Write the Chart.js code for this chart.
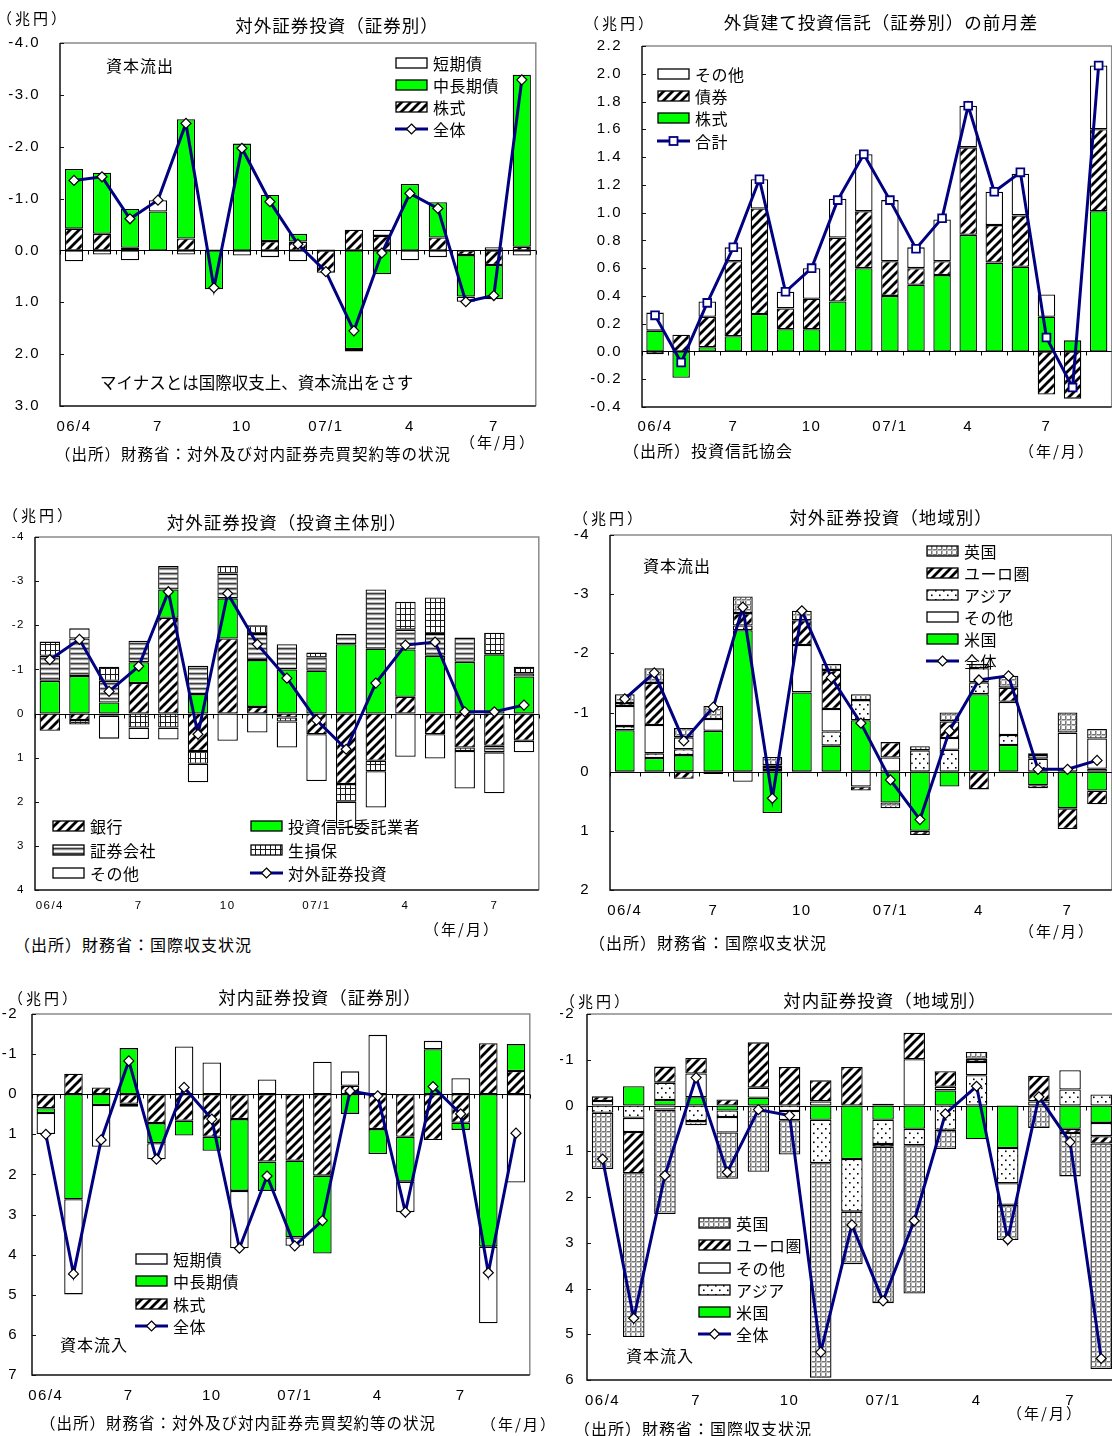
<!DOCTYPE html>
<html>
<head>
<meta charset="utf-8">
<script src="https://cdn.jsdelivr.net/npm/chart.js@4.4.1/dist/chart.umd.min.js"></script>
<style>
html,body{margin:0;padding:0;width:1112px;height:1436px;overflow:hidden;background:#fff;}
body{position:relative;font-family:"Liberation Sans","Noto Sans CJK JP",sans-serif;color:#000;}
.t{position:absolute;white-space:nowrap;line-height:1;font-family:"Noto Sans CJK JP","Liberation Sans",sans-serif;letter-spacing:1px;}
canvas.c{position:absolute;}
.lr{position:absolute;display:flex;align-items:center;height:22px;white-space:nowrap;line-height:1;font-family:"Noto Sans CJK JP",sans-serif;letter-spacing:0.5px;}
.lr canvas{margin-right:5px;display:block;}
</style>
</head>
<body>
<script>
// Month axis shared by all six panels (tick labels every third month)
const MONTHS = ['06/4','5','6','7','8','9','10','11','12','07/1','2','3','4','5','6','7','8','9'];
const months17 = MONTHS.slice(0, 17);
const months18 = MONTHS.slice(0, 18);

// 対外証券投資（証券別） 兆円, minus = capital outflow
const outSec_stock = [-0.42,-0.32,-0.05,0,-0.23,-0.02,0,-0.18,-0.17,0.43,-0.40,-0.28,0,-0.25,0.09,0.28,-0.07];
const outSec_long  = [-1.15,-1.18,-0.75,-0.75,-2.30,0.75,-2.06,-0.89,-0.15,0,1.90,0.46,-1.28,-0.68,0.80,0.66,-3.32];
const outSec_short = [0.21,0.08,0.19,-0.22,0.08,0,0.10,0.13,0.21,-0.02,0.05,-0.12,0.19,0.13,0.10,-0.06,0.10];
const outSec_total = [-1.35,-1.42,-0.61,-0.97,-2.45,0.72,-1.97,-0.94,-0.12,0.41,1.55,0.05,-1.10,-0.81,0.99,0.87,-3.29];

// 外貨建て投資信託（証券別）の前月差
const fund_stock = [0.15,-0.19,0.03,0.11,0.27,0.16,0.16,0.36,0.60,0.40,0.48,0.55,0.84,0.64,0.61,0.25,0.08,1.01];
const fund_bond  = [-0.02,0.12,0.22,0.54,0.76,0.15,0.22,0.46,0.41,0.25,0.12,0.10,0.63,0.27,0.37,-0.31,-0.34,0.59];
const fund_other = [0.13,0,0.11,0.10,0.21,0.12,0.22,0.28,0.41,0.44,0.15,0.30,0.30,0.24,0.30,0.16,0,0.46];
const fund_total = [0.26,-0.08,0.35,0.75,1.24,0.43,0.60,1.09,1.42,1.09,0.74,0.96,1.77,1.15,1.29,0.10,-0.26,2.06];

// 対外証券投資（投資主体別）
const inv_bank  = [0.39,0.15,0.05,-0.69,-2.17,0.85,-1.70,-0.15,0.09,0.47,1.60,1.07,-0.38,0.47,0.77,0.73,0.62];
const inv_trust = [-0.74,-0.85,-0.25,-0.47,-0.64,-0.44,-0.91,-1.06,-1.00,-0.97,-1.57,-1.47,-1.07,-1.31,-1.17,-1.34,-0.84];
const inv_sec   = [-0.57,-0.85,-0.49,-0.49,-0.53,-0.64,-0.56,-0.59,-0.57,-0.30,-0.23,-1.34,-0.45,-0.49,-0.55,0.15,-0.07];
const inv_ins   = [-0.32,0.10,-0.32,0.32,0.32,0.29,-0.17,-0.20,0.09,-0.11,0.40,0.24,-0.63,-0.83,0.08,-0.49,-0.15];
const inv_other = [0,-0.23,0.52,0.26,0.27,0.42,0.62,0.43,0.59,1.06,0.60,0.82,0.98,0.55,0.85,0.93,0.26];
const inv_total = [-1.22,-1.68,-0.50,-1.07,-2.76,0.47,-2.72,-1.57,-0.80,0.15,0.81,-0.69,-1.55,-1.62,-0.04,-0.04,-0.19];

// 対外証券投資（地域別）
const outReg_us    = [-0.70,-0.23,-0.28,-0.69,-2.39,0.70,-1.34,-0.44,-0.87,0.52,1.00,0.25,-1.31,-0.45,0.23,0.62,0.32];
const outReg_asia  = [-0.07,-0.08,-0.10,0,-0.08,-0.03,0,-0.24,-0.34,0,-0.36,-0.37,-0.20,-0.17,-0.22,0,-0.05];
const outReg_other = [-0.34,-0.48,-0.20,-0.20,0.17,-0.05,-0.80,-0.38,0.25,-0.24,0,-0.20,-0.24,-0.56,-0.06,-0.66,-0.51];
const outReg_euro  = [-0.05,-0.71,0.12,0.04,-0.21,-0.03,-0.42,-0.66,0.07,-0.26,0.07,-0.28,0.30,-0.24,0.05,0.35,0.23];
const outReg_uk    = [-0.15,-0.25,-0.16,-0.22,-0.28,-0.14,-0.16,-0.10,-0.10,0.10,-0.07,-0.15,-0.07,-0.20,-0.03,-0.34,-0.16];
const outReg_total = [-1.23,-1.67,-0.52,-1.09,-2.78,0.45,-2.72,-1.59,-0.82,0.14,0.81,-0.69,-1.55,-1.62,-0.04,-0.04,-0.19];

// 対内証券投資（証券別） plus = capital inflow
const inSec_stock = [0.35,-0.51,-0.17,0.24,0.72,0.66,1.06,0.62,1.68,1.66,2.03,-0.21,0.87,1.06,1.14,0.71,-1.27,-0.58];
const inSec_long  = [0.12,2.62,0.27,-1.15,0.50,0.37,0.35,1.79,0.73,1.91,1.94,0.49,0.62,1.12,-1.12,0.18,3.80,-0.67];
const inSec_short = [0.52,2.37,1.04,0.07,0.40,-1.19,-0.79,1.43,-0.37,0.21,-0.81,-0.36,-1.48,0.76,-0.21,-0.40,1.91,2.20];
const inSec_total = [1.00,4.48,1.14,-0.83,1.62,-0.17,0.62,3.84,2.04,3.78,3.15,-0.08,0.04,2.94,-0.19,0.49,4.45,0.97];

// 対内証券投資（地域別）
const inReg_us    = [0,-0.42,-0.12,-0.18,0.11,-0.17,0,0.31,1.17,0.31,0.51,-0.33,0.74,0.93,0,0.51,0.38];
const inReg_asia  = [0.16,0.27,-0.38,0.34,0.14,0,0.12,0.95,1.15,0.53,0.36,0.53,-0.66,0.77,0,-0.35,-0.24];
const inReg_other = [-0.10,0.31,0.09,-0.52,0.34,-0.22,0.20,-0.09,0,-0.04,-1.01,-0.08,-0.29,0.47,-0.09,-0.42,0.29];
const inReg_euro  = [-0.10,0.90,-0.35,-0.34,-0.13,-0.99,-0.84,-0.46,-0.84,0.06,-0.58,-0.34,-0.07,0,-0.56,0.09,0.16];
const inReg_uk    = [1.23,3.58,2.28,0.09,1.01,1.45,0.75,4.69,1.15,3.42,3.24,0.42,-0.15,0.77,0.49,0.95,4.93];
const inReg_total = [1.17,4.65,1.53,-0.61,1.46,0.09,0.22,5.39,2.61,4.27,2.52,0.18,-0.42,2.93,-0.19,0.80,5.53];

const NAVY = '#000080';
const GREEN = '#00ff00';
const NUM_FONT = '"Liberation Sans", Arial, sans-serif';

// ---- fill patterns ----
function makePattern(kind) {
  const c = document.createElement('canvas');
  let g;
  if (kind === 'hatch') {
    c.width = 9; c.height = 9; g = c.getContext('2d');
    g.fillStyle = '#fff'; g.fillRect(0, 0, 9, 9);
    g.strokeStyle = '#000'; g.lineWidth = 2.8; g.lineCap = 'square';
    g.beginPath();
    g.moveTo(-1, 10); g.lineTo(10, -1);
    g.moveTo(-2, 2); g.lineTo(2, -2);
    g.moveTo(7, 11); g.lineTo(11, 7);
    g.stroke();
  } else if (kind === 'stripe') {
    c.width = 4; c.height = 5; g = c.getContext('2d');
    const rows = ['#3c3c3c', '#8c8c8c', '#e6e6e6', '#ffffff', '#bdbdbd'];
    rows.forEach((col, i) => { g.fillStyle = col; g.fillRect(0, i, 4, 1); });
  } else if (kind === 'grid') {
    c.width = 5; c.height = 6; g = c.getContext('2d');
    g.fillStyle = '#fff'; g.fillRect(0, 0, 5, 6);
    g.fillStyle = '#1a1a1a'; g.fillRect(0, 0, 5, 1); g.fillRect(0, 0, 1, 6);
  } else if (kind === 'gridFine') {
    c.width = 5; c.height = 5; g = c.getContext('2d');
    g.fillStyle = '#fff'; g.fillRect(0, 0, 5, 5);
    g.fillStyle = '#777'; g.fillRect(0, 0, 5, 1); g.fillRect(0, 0, 1, 5);
    g.fillStyle = '#bbb'; g.fillRect(0, 1, 5, 1); g.fillRect(1, 0, 1, 5);
  } else if (kind === 'dots') {
    c.width = 8; c.height = 9; g = c.getContext('2d');
    g.fillStyle = '#fff'; g.fillRect(0, 0, 8, 9);
    g.fillStyle = '#000'; g.fillRect(1, 2, 1.6, 1.6); g.fillRect(5, 6.5, 1.6, 1.6);
  }
  return g.createPattern(c, 'repeat');
}
const FILL = {
  hatch: makePattern('hatch'), stripe: makePattern('stripe'), grid: makePattern('grid'),
  gridFine: makePattern('gridFine'), dots: makePattern('dots'), green: GREEN, white: '#ffffff'
};

function barSet(label, data, fill) {
  return {
    type: 'bar', label, data: data.map(v => (v === 0 ? null : v)),
    backgroundColor: FILL[fill], borderColor: '#000', borderWidth: 1.3,
    borderSkipped: false, stack: 'parts', order: 2
  };
}
function lineSet(label, data, square) {
  return {
    type: 'line', label, data, stack: 'line', order: 0,
    borderColor: NAVY, borderWidth: 3, tension: 0,
    pointStyle: square ? 'rect' : 'rectRot', pointRadius: square ? 5.5 : 5,
    pointBackgroundColor: '#fff', pointBorderColor: square ? NAVY : '#000',
    pointBorderWidth: square ? 1.8 : 1.2
  };
}

// plot frame, inward value ticks, zero line with month ticks
const framePlugin = {
  id: 'frame',
  beforeDraw(chart) { chart.ctx.letterSpacing = '1.5px'; },
  beforeDatasetsDraw(chart) {
    const { ctx, chartArea: a, scales: { x, y } } = chart;
    ctx.save();
    ctx.lineWidth = 1.5;
    ctx.strokeStyle = '#8a8a8a';
    ctx.beginPath(); ctx.moveTo(a.left, a.top); ctx.lineTo(a.right, a.top); ctx.lineTo(a.right, a.bottom); ctx.stroke();
    ctx.strokeStyle = '#111';
    ctx.beginPath(); ctx.moveTo(a.left, a.top); ctx.lineTo(a.left, a.bottom); ctx.lineTo(a.right, a.bottom); ctx.stroke();
    ctx.lineWidth = 1;
    ctx.beginPath();
    y.ticks.forEach(t => { const py = Math.round(y.getPixelForValue(t.value)) + 0.5; ctx.moveTo(a.left, py); ctx.lineTo(a.left + 4, py); });
    ctx.stroke();
    const z = Math.round(y.getPixelForValue(0)) + 0.5;
    const step = x.getPixelForValue(1) - x.getPixelForValue(0);
    ctx.strokeStyle = '#000'; ctx.lineWidth = 1.2;
    ctx.beginPath(); ctx.moveTo(a.left, z); ctx.lineTo(a.right, z); ctx.stroke();
    ctx.lineWidth = 1;
    ctx.beginPath();
    for (let i = 0; i <= chart.data.labels.length; i++) {
      const px = Math.round(x.getPixelForValue(0) - step / 2 + i * step) + 0.5;
      ctx.moveTo(px, z); ctx.lineTo(px, z + 4);
    }
    ctx.stroke();
    ctx.restore();
  }
};

function panel(o) {
  const padL = o.axisW, padR = 4, padB = 40;
  // top padding must cover half the top tick label plus its padding
  const padT = Math.ceil(o.fs * 0.6 + o.yPad) + 2;
  const [l, t, r, b] = o.plot;
  const w = Math.round(r - l + padL + padR), h = Math.round(b - t + padT + padB);
  const cv = document.createElement('canvas');
  cv.className = 'c';
  cv.width = w; cv.height = h;
  cv.style.left = (l - padL) + 'px'; cv.style.top = (t - padT) + 'px';
  cv.style.width = w + 'px'; cv.style.height = h + 'px';
  document.body.appendChild(cv);
  const dec = o.decimals || 0;
  new Chart(cv, {
    type: 'bar',
    data: { labels: o.labels, datasets: o.datasets },
    options: {
      responsive: false, animation: false, devicePixelRatio: 1,
      layout: { padding: { top: padT, right: padR, left: 0, bottom: 0 } },
      plugins: { legend: { display: false }, tooltip: { enabled: false } },
      datasets: { bar: { categoryPercentage: 1, barPercentage: o.barPct } },
      scales: {
        x: {
          stacked: true, offset: true,
          grid: { display: false, drawTicks: false }, border: { display: false },
          ticks: {
            autoSkip: false, maxRotation: 0, minRotation: 0, padding: o.xPad, color: '#000',
            font: { size: o.fs, family: NUM_FONT },
            callback(v, i) { return i % 3 === 0 ? this.getLabelForValue(v) : ''; }
          },
          afterFit(s) { s.height = padB; }
        },
        y: {
          stacked: true, reverse: !!o.reverse, min: o.min, max: o.max,
          grid: { display: false, drawTicks: false }, border: { display: false },
          ticks: {
            stepSize: o.step, padding: o.yPad, color: '#000',
            font: { size: o.fs, family: NUM_FONT },
            callback(v) { const s = Number(v).toFixed(dec); return s === '-0.0' || s === '-0' ? s.slice(1) : s; }
          },
          afterFit(s) { s.width = padL; }
        }
      }
    },
    plugins: [framePlugin]
  });
}

// ---- text helpers ----
function T(text, x, y, size, align, ls) {
  const d = document.createElement('div');
  d.className = 't';
  d.textContent = text;
  d.style.fontSize = size + 'px';
  if (ls !== undefined) d.style.letterSpacing = ls + 'px';
  d.style.left = x + 'px'; d.style.top = y + 'px';
  d.style.transform = align === 'c' ? 'translate(-50%,-50%)' : 'translateY(-50%)';
  document.body.appendChild(d);
}
function swatch(kind, w, h) {
  const c = document.createElement('canvas');
  c.width = w; c.height = h + 4; c.style.width = w + 'px'; c.style.height = (h + 4) + 'px';
  const g = c.getContext('2d');
  if (kind === 'line' || kind === 'lineSq') {
    const cy = (h + 4) / 2;
    g.strokeStyle = NAVY; g.lineWidth = 3;
    g.beginPath(); g.moveTo(0, cy); g.lineTo(w, cy); g.stroke();
    g.fillStyle = '#fff';
    if (kind === 'line') {
      g.strokeStyle = '#000'; g.lineWidth = 1.2;
      g.beginPath(); g.moveTo(w / 2, cy - 5); g.lineTo(w / 2 + 5, cy); g.lineTo(w / 2, cy + 5); g.lineTo(w / 2 - 5, cy); g.closePath();
      g.fill(); g.stroke();
    } else {
      g.strokeStyle = NAVY; g.lineWidth = 1.8;
      g.fillRect(w / 2 - 4, cy - 4, 8, 8); g.strokeRect(w / 2 - 4, cy - 4, 8, 8);
    }
  } else {
    g.fillStyle = FILL[kind];
    g.fillRect(1, 2, w - 2, h);
    g.strokeStyle = '#000'; g.lineWidth = 1.3;
    g.strokeRect(1, 2, w - 2, h);
  }
  return c;
}
function legend(x, rows, items, size) {
  items.forEach((it, i) => {
    const d = document.createElement('div');
    d.className = 'lr';
    d.style.left = x + 'px'; d.style.top = (rows[i] - 11) + 'px';
    d.style.fontSize = size + 'px';
    d.appendChild(swatch(it[1], 33, 10));
    const s = document.createElement('span'); s.textContent = it[0];
    d.appendChild(s);
    document.body.appendChild(d);
  });
}

// ---- panel 1: 対外証券投資（証券別） ----
panel({
  plot: [60, 43, 538, 406], axisW: 60, yPad: 20, xPad: 12, fs: 15,
  min: -4, max: 3, step: 1, reverse: true, decimals: 1, barPct: 0.65,
  labels: months17,
  datasets: [
    barSet('株式', outSec_stock, 'hatch'),
    barSet('中長期債', outSec_long, 'green'),
    barSet('短期債', outSec_short, 'white'),
    lineSet('全体', outSec_total)
  ]
});
T('（兆円）', -3, 17, 15, 'l', 3);
T('対外証券投資（証券別）', 337, 25, 17.5, 'c');
T('資本流出', 106, 65, 16);
T('マイナスとは国際収支上、資本流出をさす', 100, 382, 16.5, 'l', 0);
T('（年/月）', 460, 441, 15, 'l', 2);
T('（出所）財務省：対外及び対内証券売買契約等の状況', 55, 454, 15.5);
legend(395, [63, 85, 107, 129], [['短期債', 'white'], ['中長期債', 'green'], ['株式', 'hatch'], ['全体', 'line']], 16);

// ---- panel 2: 外貨建て投資信託（証券別）の前月差 ----
panel({
  plot: [642, 46, 1115, 407], axisW: 55, yPad: 20, xPad: 11, fs: 15,
  min: -0.4, max: 2.2, step: 0.2, decimals: 1, barPct: 0.67,
  labels: months18,
  datasets: [
    barSet('株式', fund_stock, 'green'),
    barSet('債券', fund_bond, 'hatch'),
    barSet('その他', fund_other, 'white'),
    lineSet('合計', fund_total, true)
  ]
});
T('（兆円）', 584, 22, 15, 'l', 3);
T('外貨建て投資信託（証券別）の前月差', 881, 22, 17.5, 'c');
T('（出所）投資信託協会', 623, 450, 16);
T('（年/月）', 1019, 450, 15, 'l', 2);
legend(657, [74, 96, 118, 141], [['その他', 'white'], ['債券', 'hatch'], ['株式', 'green'], ['合計', 'lineSq']], 16);

// ---- panel 3: 対外証券投資（投資主体別） ----
panel({
  plot: [35, 537, 541, 890], axisW: 35, yPad: 10, xPad: 9, fs: 11.5,
  min: -4, max: 4, step: 1, reverse: true, barPct: 0.69,
  labels: months17,
  datasets: [
    barSet('銀行', inv_bank, 'hatch'),
    barSet('投資信託委託業者', inv_trust, 'green'),
    barSet('証券会社', inv_sec, 'stripe'),
    barSet('生損保', inv_ins, 'grid'),
    barSet('その他', inv_other, 'white'),
    lineSet('対外証券投資', inv_total)
  ]
});
T('（兆円）', 3, 514, 15, 'l', 3);
T('対外証券投資（投資主体別）', 287, 522, 17.5, 'c');
T('（年/月）', 424, 928, 15, 'l', 2);
T('（出所）財務省：国際収支状況', 14, 944, 16);
legend(52, [826, 850, 873], [['銀行', 'hatch'], ['証券会社', 'stripe'], ['その他', 'white']], 16);
legend(250, [826, 850, 873], [['投資信託委託業者', 'green'], ['生損保', 'grid'], ['対外証券投資', 'line']], 16);

// ---- panel 4: 対外証券投資（地域別） ----
panel({
  plot: [610, 535, 1114, 890], axisW: 40, yPad: 20, xPad: 12, fs: 15,
  min: -4, max: 2, step: 1, reverse: true, barPct: 0.67,
  labels: months17,
  datasets: [
    barSet('米国', outReg_us, 'green'),
    barSet('アジア', outReg_asia, 'dots'),
    barSet('その他', outReg_other, 'white'),
    barSet('ユーロ圏', outReg_euro, 'hatch'),
    barSet('英国', outReg_uk, 'gridFine'),
    lineSet('全体', outReg_total)
  ]
});
T('（兆円）', 573, 517, 15, 'l', 3);
T('対外証券投資（地域別）', 891, 517, 17.5, 'c');
T('資本流出', 643, 565, 16);
T('（年/月）', 1019, 930, 15, 'l', 2);
T('（出所）財務省：国際収支状況', 589, 942, 16);
legend(926, [551, 573, 595, 617, 639, 661],
  [['英国', 'gridFine'], ['ユーロ圏', 'hatch'], ['アジア', 'dots'], ['その他', 'white'], ['米国', 'green'], ['全体', 'line']], 16);

// ---- panel 5: 対内証券投資（証券別） ----
panel({
  plot: [32, 1014, 532, 1375], axisW: 32, yPad: 14, xPad: 12, fs: 15,
  min: -2, max: 7, step: 1, reverse: true, barPct: 0.67,
  labels: months18,
  datasets: [
    barSet('株式', inSec_stock, 'hatch'),
    barSet('中長期債', inSec_long, 'green'),
    barSet('短期債', inSec_short, 'white'),
    lineSet('全体', inSec_total)
  ]
});
T('（兆円）', 8, 997, 15, 'l', 3);
T('対内証券投資（証券別）', 320, 997, 17.5, 'c');
T('資本流入', 60, 1344, 16);
T('（出所）財務省：対外及び対内証券売買契約等の状況', 40, 1423, 15.5);
T('（年/月）', 481, 1423, 15, 'l', 2);
legend(135, [1259, 1281, 1304, 1326], [['短期債', 'white'], ['中長期債', 'green'], ['株式', 'hatch'], ['全体', 'line']], 16);

// ---- panel 6: 対内証券投資（地域別） ----
panel({
  plot: [587, 1014, 1119, 1380], axisW: 27, yPad: 12, xPad: 12, fs: 15,
  min: -2, max: 6, step: 1, reverse: true, barPct: 0.69,
  labels: months17,
  datasets: [
    barSet('米国', inReg_us, 'green'),
    barSet('アジア', inReg_asia, 'dots'),
    barSet('その他', inReg_other, 'white'),
    barSet('ユーロ圏', inReg_euro, 'hatch'),
    barSet('英国', inReg_uk, 'gridFine'),
    lineSet('全体', inReg_total)
  ]
});
T('（兆円）', 560, 1000, 15, 'l', 3);
T('対内証券投資（地域別）', 885, 1000, 17.5, 'c');
T('資本流入', 626, 1355, 16);
T('（出所）財務省：国際収支状況', 574, 1428, 16);
T('（年/月）', 1007, 1412, 15, 'l', 2);
legend(698, [1223, 1245, 1268, 1290, 1312, 1334],
  [['英国', 'gridFine'], ['ユーロ圏', 'hatch'], ['その他', 'white'], ['アジア', 'dots'], ['米国', 'green'], ['全体', 'line']], 16);
</script>
</body>
</html>
